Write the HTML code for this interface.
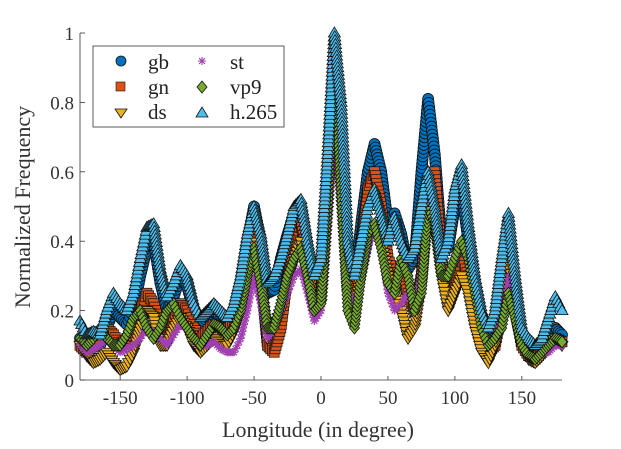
<!DOCTYPE html>
<html><head><meta charset="utf-8"><style>
body{margin:0;background:#fff;}
svg, svg text{font-family:"Liberation Serif","DejaVu Serif","Times New Roman",serif;}
</style></head><body>
<svg id="chart" width="621" height="444" xmlns="http://www.w3.org/2000/svg" font-family="Liberation Serif, DejaVu Serif, serif">
<g id="marks"></g>
<g id="axes"></g>
<text x="318" y="437" font-size="22" text-anchor="middle" fill="#333">Longitude (in degree)</text>
<text transform="translate(30,207) rotate(-90)" font-size="22" text-anchor="middle" fill="#333">Normalized Frequency</text>
<g>
<rect x="93" y="46" width="191" height="81" fill="#fff" stroke="#333" stroke-width="0.8"/>
<circle cx="121" cy="61" r="5" fill="#0072BD" stroke="#111" stroke-width="0.8"/>
<text x="148" y="69" font-size="21" fill="#222">gb</text>
<rect x="116" y="82" width="9" height="9" fill="#D95319" stroke="#111" stroke-width="0.6"/>
<text x="148" y="94" font-size="21" fill="#222">gn</text>
<path d="M115,109 L127,109 L121,118 Z" fill="#EDB120" stroke="#111" stroke-width="0.8"/>
<text x="148" y="119" font-size="21" fill="#222">ds</text>
<path d="M198,61 L206,61 M202,57 L202,65 M199,58 L205,64 M199,64 L205,58" stroke="#A040B0" stroke-width="1.1"/>
<text x="230" y="69" font-size="21" fill="#222">st</text>
<path d="M202,81 L207,87 L202,93 L197,87 Z" fill="#77AC30" stroke="#111" stroke-width="0.8"/>
<text x="230" y="94" font-size="21" fill="#222">vp9</text>
<path d="M196,117 L208,117 L202,107 Z" fill="#4DBEEE" stroke="#111" stroke-width="0.8"/>
<text x="230" y="119" font-size="21" fill="#222">h.265</text>
</g>
</svg>
<script>
const longitudes = [];
for (let d = -180; d <= 180; d += 5) longitudes.push(d);
const xTicks = [-150, -100, -50, 0, 50, 100, 150];
const xTickLabels = ["-150", "-100", "-50", "0", "50", "100", "150"];
const yTicks = [0, 0.2, 0.4, 0.6, 0.8, 1];
const yTickLabels = ["0", "0.2", "0.4", "0.6", "0.8", "1"];
const gb = [.12,.1,.12,.1,.15,.2,.18,.16,.2,.3, .38,.4,.28,.2,.24,.3,.27,.2,.16,.18, .2,.18,.17,.2,.28,.4,.5,.4,.25,.26, .35,.42,.48,.5,.38,.28,.3,.6,.95,.7, .35,.28,.45,.6,.68,.6,.45,.48,.42,.32, .35,.6,.81,.65,.4,.38,.5,.55,.4,.28, .18,.12,.15,.3,.4,.25,.12,.08,.06,.08, .12,.15,.13];
const gn = [.1,.08,.1,.12,.15,.13,.1,.12,.15,.2, .25,.22,.15,.12,.18,.22,.2,.15,.12,.14, .16,.15,.14,.18,.24,.35,.45,.3,.1,.08, .15,.3,.4,.45,.35,.22,.25,.55,.9,.6, .3,.25,.4,.55,.6,.5,.35,.3,.3,.25, .2,.3,.55,.6,.35,.22,.28,.35,.3,.2, .12,.08,.1,.2,.3,.2,.1,.07,.06,.08, .1,.12,.11];
const ds = [.1,.07,.05,.06,.08,.05,.03,.04,.08,.15, .2,.18,.1,.1,.15,.18,.15,.1,.08,.1, .12,.1,.1,.14,.2,.3,.4,.28,.12,.15, .2,.28,.35,.4,.3,.2,.22,.5,.85,.55, .25,.2,.3,.4,.45,.4,.3,.25,.2,.12, .15,.28,.5,.45,.3,.2,.25,.3,.25,.15, .08,.05,.1,.2,.35,.22,.1,.06,.05,.07, .1,.12,.1];
const st = [.1,.08,.09,.1,.12,.1,.08,.09,.1,.12, .15,.14,.12,.1,.13,.16,.15,.12,.1,.1, .11,.09,.08,.08,.12,.2,.3,.22,.12,.15, .2,.25,.3,.32,.25,.17,.2,.45,.8,.5, .25,.22,.3,.38,.45,.38,.25,.2,.22,.25, .22,.3,.6,.5,.3,.3,.35,.4,.35,.25, .15,.1,.12,.2,.3,.2,.1,.07,.06,.08, .08,.1,.1];
const vp9 = [.12,.1,.12,.15,.12,.1,.1,.13,.18,.2, .15,.12,.15,.2,.22,.18,.15,.12,.1,.13, .16,.15,.13,.15,.2,.3,.38,.28,.15,.15, .22,.3,.35,.38,.3,.2,.22,.5,.9,.55, .2,.15,.3,.42,.45,.38,.28,.25,.35,.3, .2,.25,.5,.45,.3,.3,.35,.4,.35,.25, .15,.1,.12,.15,.25,.18,.1,.07,.06,.08, .1,.12,.11];
const h265 = [.17,.13,.14,.13,.2,.25,.22,.2,.25,.35, .44,.45,.32,.24,.28,.33,.3,.22,.18,.2, .22,.2,.18,.22,.3,.42,.5,.42,.28,.3, .35,.42,.5,.52,.4,.3,.35,.65,1.0,.8, .4,.3,.4,.5,.55,.48,.4,.47,.4,.35, .38,.5,.6,.5,.35,.4,.55,.62,.45,.3, .2,.15,.2,.35,.48,.3,.15,.12,.1,.12, .18,.24,.2];

const NS = "http://www.w3.org/2000/svg";
const X0 = 80, X1 = 562, Y0 = 380, Y1 = 33;
function xs(d){ return X0 + (d + 180) / 360 * (X1 - X0); }
function ys(v){ return Y0 - v * (Y0 - Y1); }
function mk(tag, attrs, parent){
  const e = document.createElementNS(NS, tag);
  for (const k in attrs) e.setAttribute(k, attrs[k]);
  parent.appendChild(e);
  return e;
}
const marks = document.getElementById('marks');
const axes = document.getElementById('axes');
const series = [
  {name:'gb', data:gb, color:'#0072BD', shape:'circle'},
  {name:'gn', data:gn, color:'#D95319', shape:'square'},
  {name:'ds', data:ds, color:'#EDB120', shape:'tri-down'},
  {name:'st', data:st, color:'#A040B0', shape:'star'},
  {name:'vp9', data:vp9, color:'#77AC30', shape:'diamond'},
  {name:'h265', data:h265, color:'#4DBEEE', shape:'tri-up'}
];
function drawMarker(s, cx, cy, g){
  let e;
  if (s.shape === 'circle') e = mk('circle', {cx:cx, cy:cy, r:5.5, fill:s.color, stroke:'#111', 'stroke-width':0.8}, g);
  else if (s.shape === 'square') e = mk('rect', {x:cx-5, y:cy-5, width:10, height:10, fill:s.color, stroke:'#111', 'stroke-width':0.7}, g);
  else if (s.shape === 'tri-down') e = mk('path', {d:`M${cx-6},${cy-4} L${cx+6},${cy-4} L${cx},${cy+6} Z`, fill:s.color, stroke:'#111', 'stroke-width':0.8}, g);
  else if (s.shape === 'tri-up') e = mk('path', {d:`M${cx-6},${cy+4} L${cx+6},${cy+4} L${cx},${cy-6} Z`, fill:s.color, stroke:'#111', 'stroke-width':0.8}, g);
  else if (s.shape === 'diamond') e = mk('path', {d:`M${cx},${cy-6} L${cx+5},${cy} L${cx},${cy+6} L${cx-5},${cy} Z`, fill:s.color, stroke:'#111', 'stroke-width':0.8}, g);
  else e = mk('path', {d:`M${cx-4},${cy} L${cx+4},${cy} M${cx},${cy-4} L${cx},${cy+4} M${cx-3},${cy-3} L${cx+3},${cy+3} M${cx-3},${cy+3} L${cx+3},${cy-3}`, stroke:s.color, 'stroke-width':1.2, fill:'none'}, g);
  
  
}
series.forEach(s => {
  const g = mk('g', {}, marks);
  
  
  // dense marker trail along the series (markers placed every ~1 degree along the curve, like the original)
  for (let i = 0; i < s.data.length; i++) {
    const xa = xs(longitudes[i]), ya = ys(s.data[i]);
    if (i === s.data.length - 1) { drawMarker(s, xa, ya, g); break; }
    const xb = xs(longitudes[i+1]), yb = ys(s.data[i+1]);
    const dist = Math.hypot(xb - xa, yb - ya);
    const n = Math.max(4, Math.ceil(dist / 4));
    for (let k = 0; k < n; k++) {
      const t = k / n;
      drawMarker(s, xa + (xb - xa) * t, ya + (yb - ya) * t, g);
    }
  }
});
const xl = mk('line', {x1:X0, y1:Y0, x2:X1, y2:Y0, stroke:'#333', 'stroke-width':0.8}, axes);


const yl = mk('line', {x1:X0, y1:Y0, x2:X0, y2:Y1, stroke:'#333', 'stroke-width':0.8}, axes);


xTicks.forEach((t, i) => {
  mk('line', {x1:xs(t), y1:Y0, x2:xs(t), y2:Y0-4, stroke:'#333', 'stroke-width':0.8}, axes);
  const tx = mk('text', {x:xs(t), y:404, 'font-size':19, 'text-anchor':'middle', fill:'#333'}, axes);
  tx.textContent = xTickLabels[i];
  
  
});
yTicks.forEach((t, i) => {
  mk('line', {x1:X0, y1:ys(t), x2:X0+5, y2:ys(t), stroke:'#333', 'stroke-width':0.8}, axes);
  const tx = mk('text', {x:X0-6, y:ys(t)+7, 'font-size':19, 'text-anchor':'end', fill:'#333'}, axes);
  tx.textContent = yTickLabels[i];
  
  
});
</script>
</body></html>
